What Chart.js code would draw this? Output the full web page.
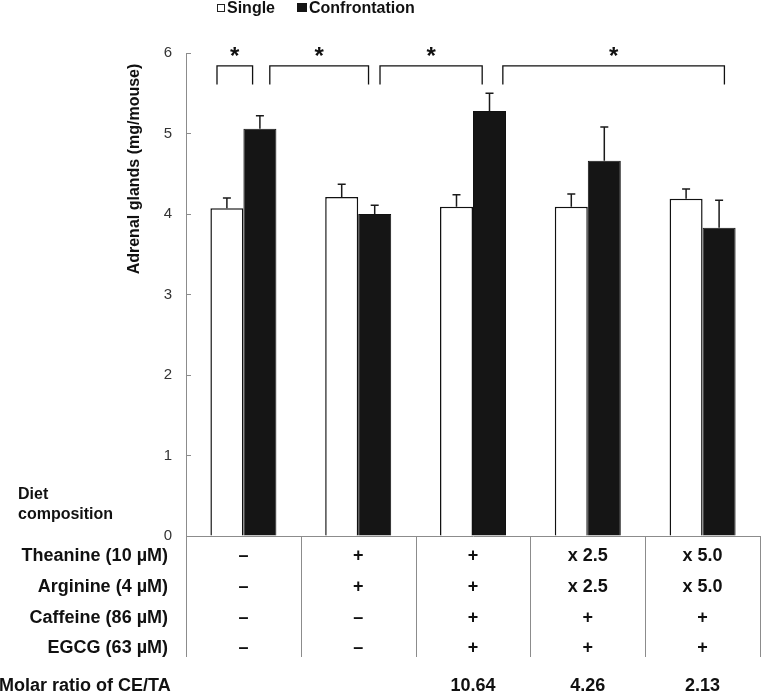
<!DOCTYPE html>
<html>
<head>
<meta charset="utf-8">
<script src="https://cdn.jsdelivr.net/npm/chart.js@4.4.1/dist/chart.umd.min.js"></script>
<style>
  body { margin: 0; background: #fff; }
  #wrap { width: 761px; height: 693px; position: relative; }
</style>
</head>
<body>
<div id="wrap"><canvas id="graficoAdrenal"></canvas></div>
<script>
const grupos = ['Basal', 'TA', 'TA+CE', 'TAx2.5+CE', 'TAx5.0+CE'];
const single = [4.07, 4.21, 4.09, 4.09, 4.19];
const singleErr = [0.13, 0.16, 0.15, 0.16, 0.12];
const confront = [5.06, 4.00, 5.28, 4.66, 3.83];
const confrontErr = [0.16, 0.11, 0.22, 0.42, 0.34];
const yTicks = [0, 1, 2, 3, 4, 5, 6];

const theanine = ['–', '+', '+', 'x 2.5', 'x 5.0'];
const arginine = ['–', '+', '+', 'x 2.5', 'x 5.0'];
const caffeine = ['–', '–', '+', '+', '+'];
const egcg = ['–', '–', '+', '+', '+'];
const molarRatio = ['', '', '10.64', '4.26', '2.13'];
const rowLabels = ['Theanine (10 µM)', 'Arginine (4 µM)', 'Caffeine (86 µM)', 'EGCG (63 µM)'];

// brackets of significance: x in category units, y in mg/mouse
const sigFrom = [-0.23, 0.23, 1.19, 2.26];
const sigTo = [0.08, 1.09, 2.08, 4.19];
const sigTop = 5.84;
const sigLeg = 5.61;

const FONT = '"Liberation Sans", Arial, sans-serif';
Chart.defaults.font.family = FONT;

const extras = {
  id: 'extras',
  afterDatasetsDraw(chart) {
    const ctx = chart.ctx;
    const y = chart.scales.y;
    // error bars (upper only)
    [singleErr, confrontErr].forEach((errs, d) => {
      const vals = chart.data.datasets[d].data;
      chart.getDatasetMeta(d).data.forEach((bar, i) => {
        const yTop = y.getPixelForValue(vals[i] + errs[i]);
        ctx.save();
        ctx.strokeStyle = '#1a1a1a';
        ctx.lineWidth = 1.5;
        ctx.beginPath();
        ctx.moveTo(bar.x, bar.y);
        ctx.lineTo(bar.x, yTop);
        ctx.moveTo(bar.x - 4, yTop);
        ctx.lineTo(bar.x + 4, yTop);
        ctx.stroke();
        ctx.restore();
      });
    });
  },
  afterDraw(chart) {
    const ctx = chart.ctx;
    const x = chart.scales.x, y = chart.scales.y;
    const area = chart.chartArea;
    ctx.save();

    // y axis title
    ctx.save();
    ctx.translate(135, 169);
    ctx.rotate(-Math.PI / 2);
    ctx.fillStyle = '#111';
    ctx.font = 'bold 16px ' + FONT;
    ctx.textAlign = 'center';
    ctx.textBaseline = 'middle';
    ctx.fillText('Adrenal glands (mg/mouse)', 0, 0);
    ctx.restore();

    // brackets + stars
    ctx.strokeStyle = '#111';
    ctx.lineWidth = 1.3;
    ctx.fillStyle = '#111';
    ctx.font = 'bold 24px ' + FONT;
    ctx.textAlign = 'center';
    ctx.textBaseline = 'alphabetic';
    sigFrom.forEach((f, k) => {
      const x1 = x.getPixelForValue(f), x2 = x.getPixelForValue(sigTo[k]);
      const yt = y.getPixelForValue(sigTop), yl = y.getPixelForValue(sigLeg);
      ctx.beginPath();
      ctx.moveTo(x1, yl); ctx.lineTo(x1, yt); ctx.lineTo(x2, yt); ctx.lineTo(x2, yl);
      ctx.stroke();
      ctx.fillText('*', (x1 + x2) / 2, yt - 2);
    });

    // legend
    ctx.lineWidth = 1;
    ctx.strokeStyle = '#222';
    ctx.fillStyle = '#fff';
    ctx.fillRect(217.5, 4.5, 7, 7);
    ctx.strokeRect(217.5, 4.5, 7, 7);
    ctx.fillStyle = '#151515';
    ctx.fillRect(297, 3, 10, 9);
    ctx.fillStyle = '#111';
    ctx.font = 'bold 16px ' + FONT;
    ctx.textAlign = 'left';
    ctx.fillText('Single', 227, 13);
    ctx.fillText('Confrontation', 309, 13);

    // diet composition table
    ctx.textBaseline = 'middle';
    ctx.fillText('Diet', 18, 495);
    ctx.fillText('composition', 18, 515);

    const w = x.width / grupos.length;
    ctx.strokeStyle = '#8c8c8c';
    ctx.lineWidth = 1;
    for (let k = 0; k <= grupos.length; k++) {
      const lx = Math.round(area.left + k * w) + 0.5;
      ctx.beginPath();
      ctx.moveTo(lx, area.bottom);
      ctx.lineTo(lx, area.bottom + 121);
      ctx.stroke();
    }

    const rows = [theanine, arginine, caffeine, egcg];
    const rowY = [20, 51, 82, 112];
    ctx.font = 'bold 18px ' + FONT;
    rows.forEach((row, r) => {
      const ry = area.bottom + rowY[r];
      ctx.textAlign = 'right';
      ctx.fillText(rowLabels[r], area.left - 18, ry);
      ctx.textAlign = 'center';
      row.forEach((txt, i) => ctx.fillText(txt, x.getPixelForValue(i), ry));
    });
    const my = area.bottom + 150;
    ctx.textAlign = 'left';
    ctx.fillText('Molar ratio of CE/TA', -1, my);
    ctx.textAlign = 'center';
    molarRatio.forEach((txt, i) => ctx.fillText(txt, x.getPixelForValue(i), my));

    ctx.restore();
  }
};

window.addEventListener('DOMContentLoaded', () => {
  const ctxAdr = document.getElementById('graficoAdrenal').getContext('2d');
  new Chart(ctxAdr, {
    type: 'bar',
    data: {
      labels: grupos,
      datasets: [
        {
          label: 'Single',
          data: single,
          backgroundColor: '#ffffff',
          borderColor: '#111',
          borderWidth: 1.5,
        },
        {
          label: 'Confrontation',
          data: confront,
          backgroundColor: '#151515',
          borderColor: '#111',
          borderWidth: 1,
        }
      ]
    },
    options: {
      responsive: true,
      maintainAspectRatio: false,
      animation: false,
      layout: { padding: { top: 53, right: 1, left: 0, bottom: 0 } },
      datasets: { bar: { categoryPercentage: 0.575, barPercentage: 1.0 } },
      plugins: {
        legend: { display: false },
        tooltip: { enabled: false }
      },
      scales: {
        x: {
          ticks: { display: false },
          grid: { display: false },
          border: { display: true, color: '#8c8c8c', width: 1 },
          afterFit: s => { s.height = 157; }
        },
        y: {
          min: 0,
          max: 6,
          afterBuildTicks: s => { s.ticks = yTicks.map(v => ({ value: v })); },
          ticks: { color: '#333', font: { size: 15 }, padding: 19 },
          grid: { drawOnChartArea: false, tickLength: -5, color: '#8c8c8c' },
          border: { display: true, color: '#8c8c8c', width: 1 },
          afterFit: s => { s.width = 186; }
        }
      }
    },
    plugins: [extras]
  });
});
</script>
</body>
</html>
